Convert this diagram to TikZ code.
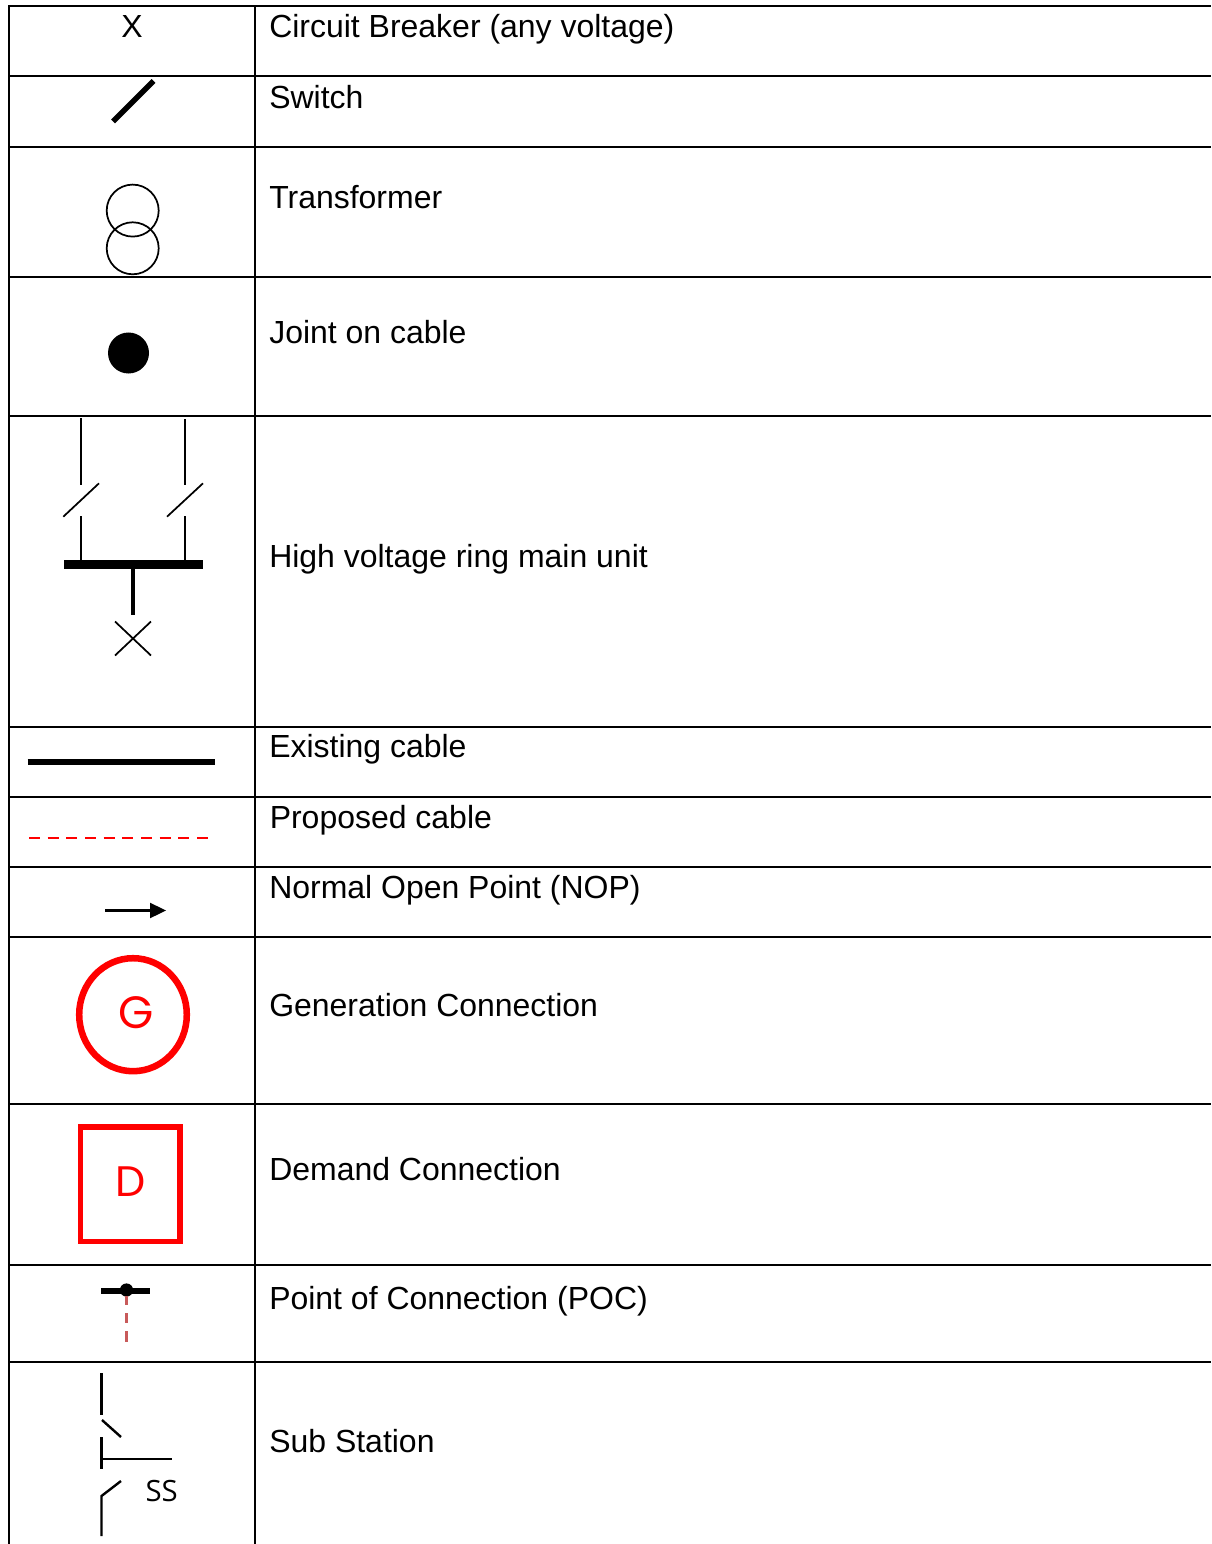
\documentclass[tikz,border=0pt]{standalone}
\usepackage{fontspec}
\setmainfont{Liberation Sans}
\newfontfamily\geo{Poppins}
\newfontfamily\lab{Open Sans}
\definecolor{pocred}{RGB}{200,90,90}
\begin{document}
\begin{tikzpicture}[x=0.75pt,y=-0.75pt,
  grid/.style={line width=1.6pt,black},
  lbl/.style={anchor=base west,inner sep=0pt,font=\fontsize{23.98pt}{28pt}\selectfont},
  thin sym/.style={line width=1.3pt,black},
  med sym/.style={line width=1.8pt,black},
  letter/.style={inner sep=0pt,text=red}]
\useasboundingbox (0,0) rectangle (1211,1544);
% grid
\foreach \yy in {6,76,147,277,416,727,797,867,937,1104,1265,1362}
  \draw[grid] (8.3,\yy) -- (1211,\yy);
\draw[grid] (9,5.3) -- (9,1544);
\draw[grid] (255,5.3) -- (255,1544);
% labels
\node[lbl] (l1) at (269,38) {Circuit Breaker (any voltage)};
\node[lbl] (l2) at (269,109) {Switch};
\node[lbl] (l3) at (269,209) {Transformer};
\node[lbl] (l4) at (269,344) {Joint on cable};
\node[lbl] (l5) at (269,567) {High voltage ring main unit};
\node[lbl] (l6) at (269,757) {Existing cable};
\node[lbl] (l7) at (269.5,828) {Proposed cable};
\node[lbl] (l8) at (269,898) {Normal Open Point (NOP)};
\node[lbl] (l9) at (269,1016) {Generation Connection};
\node[lbl] (l10) at (269,1180) {Demand Connection};
\node[lbl] (l11) at (269,1309) {Point of Connection (POC)};
\node[lbl] (l12) at (269,1452) {Sub Station};
% breaker
\node[lbl,anchor=base] (x1) at (132,38) {X};
% switch
\draw[line width=4pt] (113,121.5) -- (153.5,81);
% transformer
\draw[thin sym] (132.7,210.6) circle (26);
\draw[thin sym] (132.7,248.3) circle (26);
% joint
\fill (128.5,353) circle (20.5);
% RMU
\draw[thin sym] (81,418) -- (81,485);
\draw[thin sym] (185,419) -- (185,485);
\draw[thin sym] (63.3,516.7) -- (99,483.3);
\draw[thin sym] (167,516.7) -- (203,483.3);
\draw[thin sym] (81,516) -- (81,561);
\draw[thin sym] (185,516) -- (185,561);
\draw[line width=6.75pt] (64,564.5) -- (203,564.5);
\draw[line width=3pt] (133,564) -- (133,615);
\draw[thin sym] (115,621.5) -- (151,655.5);
\draw[thin sym] (151,621.5) -- (115,655.5);
% existing
\draw[line width=4.4pt] (27.5,762) -- (214.5,762);
% proposed
\foreach \xx in {29,47.7,66.3,85,103.7,122.3,141,159.7,178.3,197}
  \draw[red,line width=2.1pt] (\xx,838) -- ++(11,0);
% NOP
\draw[line width=1.8pt] (105,910.5) -- (152,910.5);
\fill (166,910.5) -- (150,902.7) -- (150,918.3) -- cycle;
% generation
\draw[red,line width=4.9pt] (133,1014.7) ellipse (53.8 and 56.5);
\node[letter,font=\geo\fontsize{34pt}{36pt}\selectfont] (g) at (136.3,1013) {G};
% demand
\draw[red,line width=4.2pt] (80.5,1127) rectangle (180,1241.5);
\node[letter,font=\geo\fontsize{32pt}{35pt}\selectfont] (d) at (130.5,1182) {D};
% POC
\draw[line width=4.5pt] (101.3,1290.5) -- (149.7,1290.5);
\fill (126.5,1290) circle (6.6);
\draw[line width=2.3pt,pocred] (126.5,1296) -- (126.5,1305);
\draw[line width=2.3pt,pocred] (126.5,1313) -- (126.5,1323);
\draw[line width=2.3pt,pocred] (126.5,1331) -- (126.5,1342);
% substation
\draw[med sym] (101.5,1373) -- (101.5,1415);
\draw[med sym] (102,1420) -- (121,1437);
\draw[med sym] (101.5,1437) -- (101.5,1469);
\draw[med sym] (101.5,1459) -- (172,1459);
\draw[med sym] (121,1481) -- (101.5,1496) -- (101.5,1536);
\node[inner sep=0pt,font=\lab\fontsize{22pt}{25pt}\selectfont] (ss) at (161.7,1491) {SS};
\end{tikzpicture}
\end{document}
